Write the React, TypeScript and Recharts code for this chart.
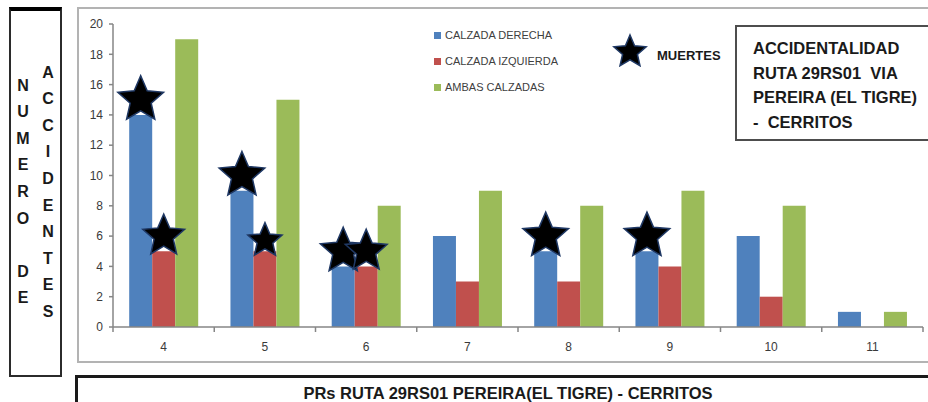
import React from 'react';
import { BarChart, Bar, XAxis, YAxis, LabelList } from 'recharts';

const categorias = ['4', '5', '6', '7', '8', '9', '10', '11'];
const calzadaDerecha = [14, 9, 4, 6, 5, 5, 6, 1];
const calzadaIzquierda = [5, 5, 4, 3, 3, 4, 2, 0];
const ambasCalzadas = [19, 15, 8, 9, 8, 9, 8, 1];
// posición (en unidades del eje) de las estrellas de "MUERTES"
const muertesDerecha: (number | null)[] = [15, 10, 5, null, 6, 6, null, null];
const muertesIzquierda: (number | null)[] = [6, 5.7, 5, null, null, null, null, null];
const yTicks = [0, 2, 4, 6, 8, 10, 12, 14, 16, 18, 20];

const columnaUno = ['N', 'U', 'M', 'E', 'R', 'O', '', 'D', 'E'];
const columnaDos = ['A', 'C', 'C', 'I', 'D', 'E', 'N', 'T', 'E', 'S'];
const tituloLineas = ['ACCIDENTALIDAD', 'RUTA 29RS01  VIA', 'PEREIRA (EL TIGRE)', '-  CERRITOS'];
const tituloEje = 'PRs RUTA 29RS01 PEREIRA(EL TIGRE) - CERRITOS';
const leyenda = [
  { nombre: 'CALZADA DERECHA', color: '#4F81BD' },
  { nombre: 'CALZADA IZQUIERDA', color: '#C0504D' },
  { nombre: 'AMBAS CALZADAS', color: '#9BBB59' },
];

const data = categorias.map((c, i) => ({
  pr: c,
  der: calzadaDerecha[i],
  izq: calzadaIzquierda[i],
  amb: ambasCalzadas[i],
}));

const CHART_W = 928;
const CHART_H = 402;
const M = { top: 24, right: 5, left: 73, bottom: 45 };
const Y_AXIS_W = 40;
const X_AXIS_H = 30;
const PLOT_W = CHART_W - M.left - Y_AXIS_W - M.right;

function starPath(cx: number, cy: number, R: number, r: number) {
  const pts: string[] = [];
  for (let k = 0; k < 10; k++) {
    const ang = -Math.PI / 2 + (k * Math.PI) / 5;
    const rad = k % 2 === 0 ? R : r;
    pts.push(`${(cx + rad * Math.cos(ang)).toFixed(2)},${(cy + rad * Math.sin(ang)).toFixed(2)}`);
  }
  return 'M' + pts.join('L') + 'Z';
}

const Star = ({ cx, cy, R }: { cx: number; cy: number; R: number }) => (
  <path d={starPath(cx, cy, R, R * 0.46)} fill="#000" stroke="#1F3864" strokeWidth={1.5} />
);

const renderStars = (props: any) => {
  const vb = props.viewBox || {};
  const x = props.x ?? vb.x;
  const y = props.y ?? vb.y;
  const width = props.width ?? vb.width;
  const height = props.height ?? vb.height;
  const idx = categorias.indexOf(String(props.value));
  if (idx < 0 || !height) return null;
  const base = y + height;
  const ppu = height / ambasCalzadas[idx];
  const out: React.ReactNode[] = [];
  const md = muertesDerecha[idx];
  const mi = muertesIzquierda[idx];
  if (md != null) {
    out.push(<Star key="d" cx={x - 1.5 * width} cy={base - md * ppu} R={24} />);
  }
  if (mi != null) {
    out.push(<Star key="i" cx={x - 0.5 * width} cy={base - mi * ppu} R={idx === 1 ? 18 : 22} />);
  }
  return <g>{out}</g>;
};

const XTick = (props: any) => {
  const { x, y, payload } = props;
  const bw = PLOT_W / categorias.length;
  const i = payload.index;
  return (
    <g>
      <line x1={x - bw / 2} x2={x - bw / 2} y1={y} y2={y + 5} stroke="#868686" strokeWidth={1.5} />
      {i === categorias.length - 1 && (
        <line x1={x + bw / 2} x2={x + bw / 2} y1={y} y2={y + 5} stroke="#868686" strokeWidth={1.5} />
      )}
      <text x={x} y={y + 24} textAnchor="middle" fontSize={12} fill="#3a3a3a" fontFamily="Liberation Sans, Arial, sans-serif">
        {payload.value}
      </text>
    </g>
  );
};

export default function App() {
  const font = 'Liberation Sans, Arial, sans-serif';
  return (
    <div style={{ position: 'absolute', left: 0, top: 0, width: CHART_W, height: CHART_H, background: '#fff', overflow: 'hidden', fontFamily: font }}>
      {/* caja izquierda */}
      <div style={{ position: 'absolute', left: 9, top: 7, width: 53, height: 370, boxSizing: 'border-box', border: '2px solid #2b2b2b', borderTop: '4px solid #000' }} />
      <div style={{ position: 'absolute', left: 12, top: 72.7, width: 22 }}>
        {columnaUno.map((c, i) => (
          <div key={i} style={{ height: 26.6, lineHeight: '26.6px', textAlign: 'center', fontWeight: 700, fontSize: 16, color: '#1a1a1a' }}>{c}</div>
        ))}
      </div>
      <div style={{ position: 'absolute', left: 37, top: 59.7, width: 22 }}>
        {columnaDos.map((c, i) => (
          <div key={i} style={{ height: 26.6, lineHeight: '26.6px', textAlign: 'center', fontWeight: 700, fontSize: 16, color: '#1a1a1a' }}>{c}</div>
        ))}
      </div>

      {/* marco del gráfico */}
      <div style={{ position: 'absolute', left: 77, top: 7, width: 870, height: 356, boxSizing: 'border-box', border: '2px solid #b3b3b3' }} />

      <div style={{ position: 'absolute', left: 0, top: 0 }}>
        <BarChart width={CHART_W} height={CHART_H} data={data} margin={M} barCategoryGap="16%" barGap={0}>
          <XAxis
            dataKey="pr"
            height={X_AXIS_H}
            axisLine={{ stroke: '#868686', strokeWidth: 1.5 }}
            tickLine={false}
            tickSize={0}
            tickMargin={0}
            tick={<XTick />}
            interval={0}
          />
          <YAxis
            width={Y_AXIS_W}
            domain={[0, 20]}
            ticks={yTicks}
            interval={0}
            axisLine={{ stroke: '#868686', strokeWidth: 1.5 }}
            tickLine={{ stroke: '#868686', strokeWidth: 1.5 }}
            tickSize={4}
            tickMargin={6}
            tick={{ fontSize: 12, fill: '#3a3a3a', fontFamily: font }}
          />
          <Bar dataKey="der" fill="#4F81BD" isAnimationActive={false} />
          <Bar dataKey="izq" fill="#C0504D" isAnimationActive={false} />
          <Bar dataKey="amb" fill="#9BBB59" isAnimationActive={false}>
            <LabelList dataKey="pr" content={renderStars} />
          </Bar>
        </BarChart>
      </div>

      {/* leyenda */}
      {leyenda.map((l, i) => (
        <div key={l.nombre} style={{ position: 'absolute', left: 434, top: 28 + i * 26, height: 14, display: 'flex', alignItems: 'center' }}>
          <div style={{ width: 7, height: 7, background: l.color, marginRight: 4 }} />
          <span style={{ fontSize: 11, color: '#404040', whiteSpace: 'nowrap' }}>{l.nombre}</span>
        </div>
      ))}
      <svg style={{ position: 'absolute', left: 611, top: 33 }} width={38} height={38}>
        <path d={starPath(19, 19, 17, 7.8)} fill="#000" stroke="#1F3864" strokeWidth={1.5} />
      </svg>
      <div style={{ position: 'absolute', left: 657, top: 47, fontSize: 13, fontWeight: 700, color: '#1a1a1a', lineHeight: '18px' }}>MUERTES</div>

      {/* caja de título */}
      <div style={{ position: 'absolute', left: 735, top: 25, width: 220, height: 116, boxSizing: 'border-box', border: '2px solid #4d4d4d', background: '#fff' }}>
        <div style={{ position: 'absolute', left: 16, top: 9 }}>
          {tituloLineas.map((t, i) => (
            <div key={i} style={{ height: 24.7, lineHeight: '24.7px', fontSize: 16.5, fontWeight: 700, color: '#1a1a1a', whiteSpace: 'pre' }}>{t}</div>
          ))}
        </div>
      </div>

      {/* caja inferior */}
      <div style={{ position: 'absolute', left: 75, top: 375, width: 900, height: 40, boxSizing: 'border-box', borderTop: '3px solid #1a1a1a', borderLeft: '3px solid #1a1a1a' }} />
      <div style={{ position: 'absolute', left: 75, width: 866, top: 383, textAlign: 'center', fontSize: 16.5, fontWeight: 700, color: '#1a1a1a', lineHeight: '20px', whiteSpace: 'nowrap' }}>
        {tituloEje}
      </div>
    </div>
  );
}
